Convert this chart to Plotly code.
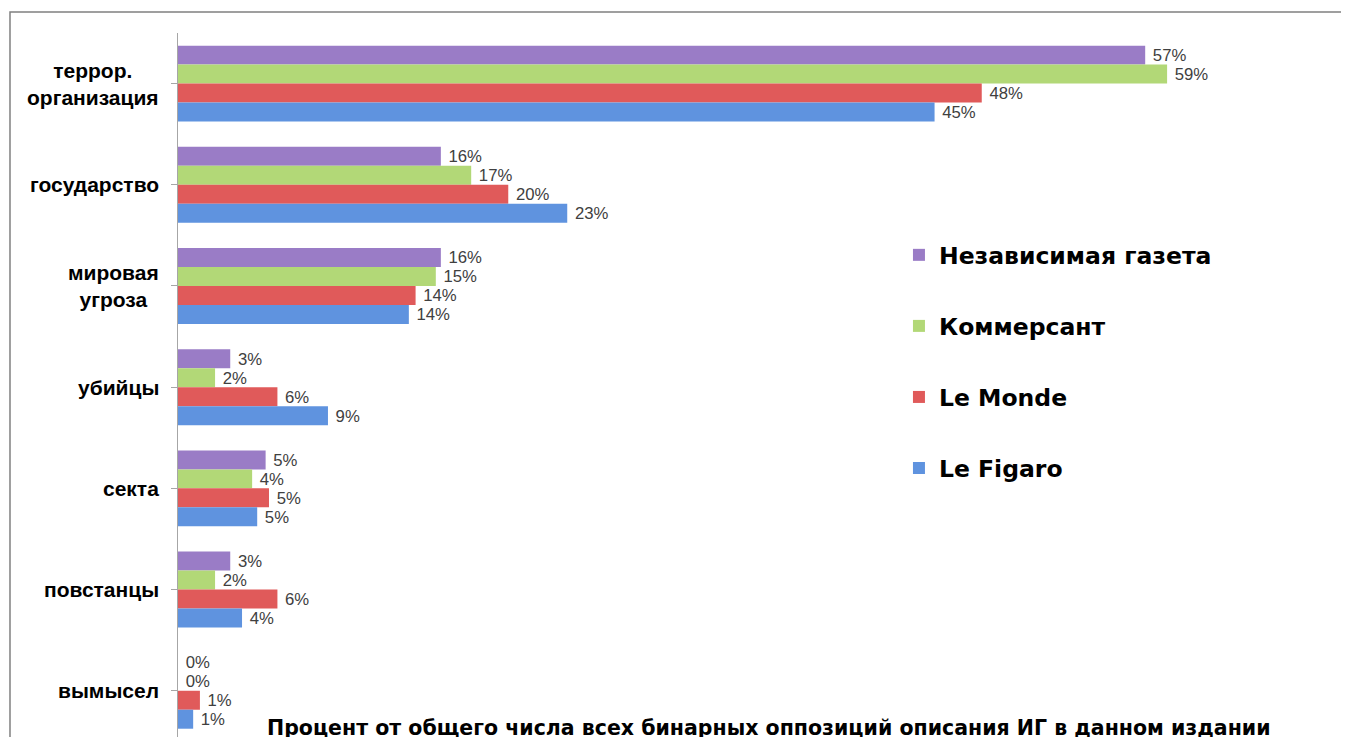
import plotly.graph_objects as go

categories = ["террор.<br>организация", "государство", "мировая<br>угроза", "убийцы", "секта", "повстанцы", "вымысел"]
series_names = ["Независимая газета", "Коммерсант", "Le Monde", "Le Figaro"]
ng = [57.4, 15.6, 15.6, 3.1, 5.2, 3.1, 0.0]
kommersant = [58.7, 17.4, 15.3, 2.2, 4.4, 2.2, 0.0]
le_monde = [47.7, 19.6, 14.1, 5.9, 5.4, 5.9, 1.3]
le_figaro = [44.9, 23.1, 13.7, 8.9, 4.7, 3.8, 0.9]
colors = ["#9A7CC6", "#B2D877", "#E05A5A", "#5F93DF"]
axis_title = "Процент от общего числа всех бинарных оппозиций описания ИГ в данном издании"

values = [ng, kommersant, le_monde, le_figaro]
ypos = list(range(len(categories)))

fig = go.Figure()
for name, vals, col in zip(series_names, values, colors):
    fig.add_trace(go.Bar(
        y=ypos, x=vals, name=name, orientation="h",
        marker=dict(color=col, line=dict(width=0)),
        texttemplate="\u00a0%{x:.0f}%", textposition="outside",
        textfont=dict(family="Liberation Sans, Arial", size=18.5, color="#404040"),
        cliponaxis=False, legendgroup=name,
    ))

annotations = []
for i, c in enumerate(categories):
    annotations.append(dict(
        x=0, xref="paper", y=i, yref="y", text=c, showarrow=False,
        xanchor="right", yanchor="middle", align="center", xshift=-17,
        font=dict(family="Liberation Sans, Arial", size=21, color="#000000", weight="bold"),
    ))
annotations.append(dict(
    x=0.5013, xref="paper", y=0.0245, yref="paper", text=axis_title, showarrow=False,
    xanchor="center", yanchor="middle",
    font=dict(family="DejaVu Sans", size=20.5, color="#000000", weight="bold"),
))

fig.update_layout(
    width=1349, height=737,
    margin=dict(l=170, r=0, t=25, b=0),
    paper_bgcolor="white", plot_bgcolor="white",
    barmode="group", bargap=0.25, bargroupgap=0,
    showlegend=True,
    legend=dict(
        x=0.6115, y=0.719, xanchor="left", yanchor="top",
        font=dict(family="DejaVu Sans", size=23.5, color="#000000", weight="bold"),
        tracegroupgap=37.5, itemsizing="constant", bgcolor="rgba(0,0,0,0)",
    ),
    xaxis=dict(range=[0, 69.97], visible=False, showgrid=False, zeroline=False),
    yaxis=dict(
        range=[6.536, -0.5], tickmode="array", tickvals=ypos, ticktext=[""] * len(ypos),
        showticklabels=False, tickson="boundaries", ticks="outside", ticklen=6,
        tickcolor="#A6A6A6", showline=True, linecolor="#A6A6A6", linewidth=1,
        showgrid=False, zeroline=False,
    ),
    annotations=annotations,
    shapes=[dict(type="rect", xref="paper", yref="paper",
                 x0=-0.1425, x1=1.3, y0=-0.3, y1=1.0295,
                 line=dict(color="#808080", width=1.5), fillcolor="rgba(0,0,0,0)", layer="below")],
)

fig.write_html("out.html")
